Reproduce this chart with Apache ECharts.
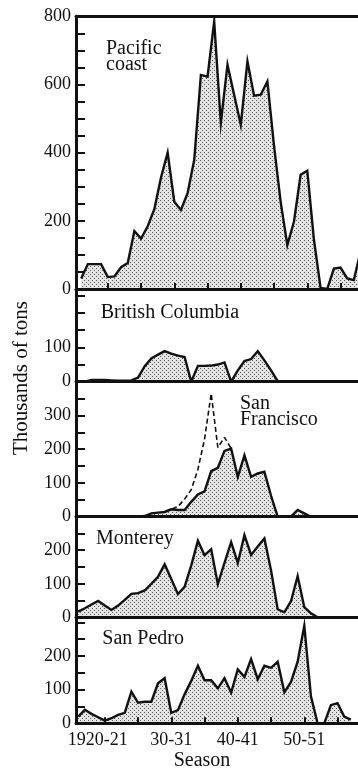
<!DOCTYPE html>
<html>
<head>
<meta charset="utf-8">
<script src="https://cdn.jsdelivr.net/npm/echarts@6/dist/echarts.min.js"></script>
<style>
  html, body { margin: 0; padding: 0; background: #fff; }
  #chart { width: 358px; height: 770px; }
</style>
</head>
<body>
<div id="chart"></div>
<script>
// Sardine catch by season (start year of season), thousands of tons
const seasons = [1916, 1917, 1918, 1919, 1920, 1921, 1922, 1923, 1924, 1925,
                 1926, 1927, 1928, 1929, 1930, 1931, 1932, 1933, 1934, 1935,
                 1936, 1937, 1938, 1939, 1940, 1941, 1942, 1943, 1944, 1945,
                 1946, 1947, 1948, 1949, 1950, 1951, 1952, 1953, 1954, 1955,
                 1956, 1957, 1958];

const pacificCoast = [31, 73, 73, 73, 35, 37, 64, 76, 170, 148,
                      184, 234, 327, 400, 256, 232, 281, 379, 628, 623,
                      785, 487, 658, 570, 482, 668, 567, 570, 609, 420,
                      255, 129, 198, 335, 347, 145, 3, 0, 60, 63,
                      31, 26, 110];

const britishColumbia = [0, 0, 5, 5, 5, 4, 3, 3, 4, 12,
                         45, 68, 79, 89, 82, 76, 72, 0, 46, 46,
                         47, 50, 56, 0, 33, 60, 66, 89, 62, 33,
                         2, 0, 0, 0, 0, 0, 0, 0, 0, 0,
                         0, 0];

const sanFrancisco = [0, 0, 0, 0, 0, 0, 0, 0, 0, 0,
                      2, 10, 12, 14, 22, 20, 20, 44, 66, 75,
                      135, 145, 195, 202, 118, 182, 118, 128, 133, 62,
                      0, 0, 0, 20, 10, 0, 0, 0, 0, 0,
                      0, 0];

// Dashed line, San Francisco seasons 1929-30 to 1939-40
const sfDashedSeasons = [1929, 1930, 1931, 1932, 1933, 1934, 1935, 1936, 1937, 1938, 1939];
const sfDashed = [14, 22, 30, 52, 80, 140, 230, 365, 205, 235, 202];

const monterey = [17, 27, 38, 49, 35, 22, 35, 52, 70, 72,
                  80, 100, 121, 158, 114, 69, 91, 155, 228, 185,
                  203, 99, 162, 224, 162, 245, 186, 211, 235, 140,
                  24, 15, 48, 123, 30, 12, 0];

const sanPedro = [20, 40, 28, 18, 8, 15, 25, 31, 94, 61,
                  64, 64, 119, 134, 31, 39, 86, 126, 171, 128,
                  128, 104, 134, 91, 160, 138, 191, 131, 171, 165,
                  183, 92, 123, 183, 290, 80, 0, 0, 54, 60,
                  20, 11];

const xTickSeasons = [1920, 1925, 1930, 1935, 1940, 1945, 1950, 1955];
const xLabelSeasons = [1920, 1930, 1940, 1950];
const xLabelText = ['1920-21', '30-31', '40-41', '50-51'];

const yMinorTicks = [0, 50, 100, 150, 200, 250, 300, 350, 400, 450, 500, 550, 600, 650, 700, 750, 800];
const pacificYLabels = [0, 200, 400, 600, 800];
const bcYLabels = [0, 100];
const sfYLabels = [0, 100, 200, 300];
const montereyYLabels = [0, 100, 200];
const sanPedroYLabels = [0, 100, 200];

const FONT = 'Liberation Serif';
const INK = '#111';

// stippled fill like a halftone screen
function stipple() {
  const c = document.createElement('canvas');
  c.width = 4; c.height = 4;
  const g = c.getContext('2d');
  g.fillStyle = '#e3e3e3';
  g.fillRect(0, 0, 4, 4);
  g.fillStyle = '#5a5a5a';
  g.fillRect(0, 0, 1, 1);
  g.fillRect(2, 2, 1, 1);
  return c;
}
const dotFill = { image: stipple(), repeat: 'repeat' };

function pairs(xs, ys) {
  return ys.map((v, i) => [xs[i], v]);
}

// panel layout: pixel band and value range
const panels = [
  { values: pacificCoast, top: 16.3, height: 272.7, max: 800, labels: pacificYLabels, xMin: 1915.22, ticks: true },
  { values: britishColumbia, top: 289, height: 92.7, max: 270, labels: bcYLabels, xMin: 1915.67, ticks: false },
  { values: sanFrancisco, top: 381.7, height: 135, max: 400, labels: sfYLabels, xMin: 1915.67, ticks: false },
  { values: monterey, top: 516.7, height: 100.6, max: 300, labels: montereyYLabels, xMin: 1915.67, ticks: false },
  { values: sanPedro, top: 617.3, height: 106, max: 315, labels: sanPedroYLabels, xMin: 1915.67, ticks: true }
];
const PX_PER_SEASON = 6.65;
const GRID_LEFT = 76;
const GRID_WIDTH = 281.5;

const grid = [], xAxis = [], yAxis = [], series = [];

panels.forEach((p, i) => {
  grid.push({ left: GRID_LEFT, width: GRID_WIDTH, top: p.top, height: p.height, outerBoundsMode: 'none' });
  const last = i === panels.length - 1;
  xAxis.push({
    type: 'value', gridIndex: i, position: 'bottom', z: 5,
    min: p.xMin, max: p.xMin + GRID_WIDTH / PX_PER_SEASON,
    axisLine: { show: true, onZero: false, lineStyle: { color: INK, width: 3 } },
    axisTick: { show: p.ticks, inside: true, length: 6, customValues: xTickSeasons,
                lineStyle: { color: INK, width: 2 } },
    axisLabel: {
      show: last, customValues: xLabelSeasons, margin: 8,
      color: INK, fontFamily: FONT, fontSize: 18,
      formatter: v => {
        const t = xLabelText[xLabelSeasons.indexOf(Math.round(v))];
        return v === 1920 ? '{w|' + t + '}' : t;
      },
      rich: { w: { fontFamily: FONT, fontSize: 18, color: INK, padding: [0, 14, 0, 0] } }
    },
    splitLine: { show: false }
  });
  yAxis.push({
    type: 'value', gridIndex: i, min: 0, max: p.max, z: 5,
    axisLine: { show: true, lineStyle: { color: INK, width: 3 } },
    axisTick: { show: true, inside: true, length: 9,
                customValues: yMinorTicks.filter(v => v <= p.max),
                lineStyle: { color: INK, width: 2 } },
    axisLabel: { customValues: p.labels, margin: 5, color: INK, fontFamily: FONT, fontSize: 18 },
    splitLine: { show: false }
  });
  series.push({
    type: 'line', xAxisIndex: i, yAxisIndex: i,
    data: pairs(seasons, p.values),
    symbol: 'none', silent: true, z: 3,
    lineStyle: { color: INK, width: 2.4, join: 'miter', miterLimit: 20 },
    areaStyle: { color: dotFill, opacity: 1 }
  });
});

// frame line along the top of the first panel
xAxis.push({
  type: 'value', gridIndex: 0, position: 'top', z: 5,
  min: panels[0].xMin, max: panels[0].xMin + GRID_WIDTH / PX_PER_SEASON,
  axisLine: { show: true, onZero: false, lineStyle: { color: INK, width: 3 } },
  axisTick: { show: false }, axisLabel: { show: false }, splitLine: { show: false }
});

series.push({
  type: 'line', xAxisIndex: 2, yAxisIndex: 2,
  data: pairs(sfDashedSeasons, sfDashed),
  symbol: 'none', silent: true, z: 4,
  lineStyle: { color: INK, width: 1.6, type: [5, 3] }
});

function label(text, x, y, size, extra) {
  return Object.assign({
    type: 'text', x: x, y: y, silent: true, z: 10,
    style: { text: text, fill: INK, font: size + 'px "' + FONT + '"',
             textAlign: 'left', textVerticalAlign: 'middle' }
  }, extra || {});
}

const graphic = [
  label('Pacific', 106, 48.3, 20),
  label('coast', 106, 65, 20),
  label('British Columbia', 100.7, 312.6, 20),
  label('San', 240, 403.3, 20),
  label('Francisco', 240, 420, 20),
  label('Monterey', 96, 538.8, 20),
  label('San Pedro', 102.3, 639, 20),
  {
    type: 'text', x: 21, y: 378, rotation: Math.PI / 2, silent: true, z: 10,
    style: { text: 'Thousands of tons', fill: INK, font: '21px "' + FONT + '"',
             textAlign: 'center', textVerticalAlign: 'middle' }
  },
  {
    type: 'text', x: 202, y: 760.3, silent: true, z: 10,
    style: { text: 'Season', fill: INK, font: '20px "' + FONT + '"',
             textAlign: 'center', textVerticalAlign: 'middle' }
  }
];

const chart = echarts.init(document.getElementById('chart'), null, { renderer: 'canvas' });
chart.setOption({
  animation: false,
  backgroundColor: '#fff',
  grid: grid,
  xAxis: xAxis,
  yAxis: yAxis,
  series: series,
  graphic: graphic
});
</script>
</body>
</html>
